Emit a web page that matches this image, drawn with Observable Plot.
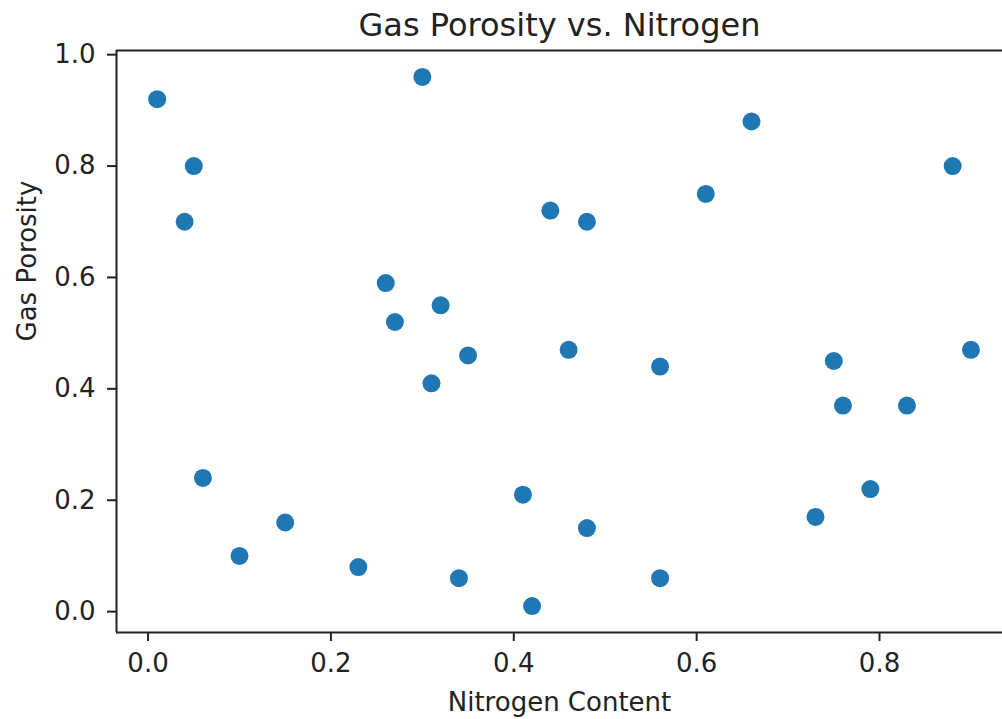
<!DOCTYPE html>
<html>
<head>
<meta charset="utf-8">
<script src="https://cdn.jsdelivr.net/npm/d3@7"></script>
<script src="https://cdn.jsdelivr.net/npm/@observablehq/plot@0.6"></script>
<style>
  html, body { margin: 0; padding: 0; background: #fff; overflow: hidden; }
  #chart svg { display: block; }
</style>
</head>
<body>
<div id="chart"></div>
<script>
// Data
const nitrogen = [0.01, 0.05, 0.04, 0.30, 0.26, 0.32, 0.27, 0.35, 0.31, 0.06, 0.10, 0.15, 0.23, 0.34, 0.44, 0.48,
                  0.61, 0.66, 0.88, 0.46, 0.90, 0.56, 0.75, 0.76, 0.83, 0.41, 0.48, 0.79, 0.73, 0.56, 0.42];
const porosity = [0.92, 0.80, 0.70, 0.96, 0.59, 0.55, 0.52, 0.46, 0.41, 0.24, 0.10, 0.16, 0.08, 0.06, 0.72, 0.70,
                  0.75, 0.88, 0.80, 0.47, 0.47, 0.44, 0.45, 0.37, 0.37, 0.21, 0.15, 0.22, 0.17, 0.06, 0.01];
const xTicks = [0.0, 0.2, 0.4, 0.6, 0.8];
const yTicks = [0.0, 0.2, 0.4, 0.6, 0.8, 1.0];
const titleText = "Gas Porosity vs. Nitrogen";
const xLabel = "Nitrogen Content";
const yLabel = "Gas Porosity";

const points = nitrogen.map((x, i) => ({x, y: porosity[i]}));
const xDomain = [-0.0345, 0.9345];
const yDomain = [-0.0375, 1.0075];
const ink = "#222";
const fmt = d3.format(".1f");

const chart = Plot.plot({
  width: 1002,
  height: 719,
  marginLeft: 116,
  marginRight: 0,
  marginTop: 50,
  marginBottom: 87,
  style: {fontFamily: "'DejaVu Sans', sans-serif", fontSize: "26px", color: ink, background: "#fff", overflow: "visible"},
  x: {domain: xDomain},
  y: {domain: yDomain},
  marks: [
    Plot.ruleX([xDomain[0]], {stroke: ink, strokeWidth: 2}),
    Plot.ruleY([yDomain[0]], {stroke: ink, strokeWidth: 2}),
    Plot.ruleY([yDomain[1]], {stroke: ink, strokeWidth: 2}),
    Plot.axisX({ticks: xTicks, tickFormat: fmt, tickSize: 9, tickPadding: 12, strokeWidth: 2, fontSize: 26, label: null}),
    Plot.axisY({ticks: yTicks, tickFormat: fmt, tickSize: 9, tickPadding: 12, strokeWidth: 2, fontSize: 26, label: null}),
    Plot.dot(points, {x: "x", y: "y", r: 9, fill: "#1f77b4", stroke: null}),
    Plot.text([titleText], {text: d => d, frameAnchor: "top", lineAnchor: "middle", dy: -25, fontSize: 32, fill: ink}),
    Plot.text([xLabel], {text: d => d, frameAnchor: "bottom", lineAnchor: "middle", dy: 70, fontSize: 26, fill: ink}),
    Plot.text([yLabel], {text: d => d, frameAnchor: "left", lineAnchor: "middle", dx: -89, rotate: -90, fontSize: 26, fill: ink})
  ]
});
document.getElementById("chart").append(chart);
</script>
</body>
</html>
